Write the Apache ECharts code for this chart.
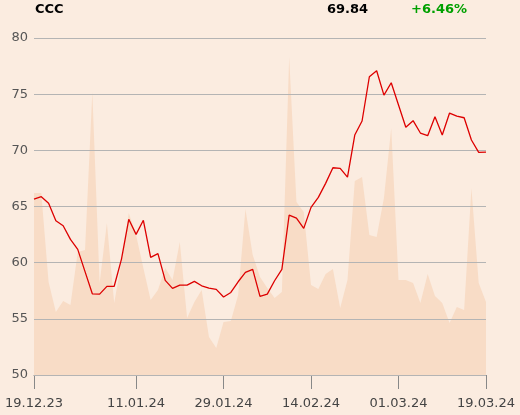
<!DOCTYPE html>
<html>
<head>
<meta charset="utf-8">
<script src="https://cdn.jsdelivr.net/npm/echarts@6/dist/echarts.min.js"></script>
<style>
html,body{margin:0;padding:0;background:#fbece0;}
#chart{width:520px;height:415px;}
</style>
</head>
<body>
<div id="chart"></div>
<script>
var dates = ['19.12.23','20.12.23','21.12.23','22.12.23','27.12.23','28.12.23','29.12.23','02.01.24','03.01.24','04.01.24','05.01.24','08.01.24','09.01.24','10.01.24','11.01.24','12.01.24','15.01.24','16.01.24','17.01.24','18.01.24','19.01.24','22.01.24','23.01.24','24.01.24','25.01.24','26.01.24','29.01.24','30.01.24','31.01.24','01.02.24','02.02.24','05.02.24','06.02.24','07.02.24','08.02.24','09.02.24','12.02.24','13.02.24','14.02.24','15.02.24','16.02.24','19.02.24','20.02.24','21.02.24','22.02.24','23.02.24','26.02.24','27.02.24','28.02.24','29.02.24','01.03.24','04.03.24','05.03.24','06.03.24','07.03.24','08.03.24','11.03.24','12.03.24','13.03.24','14.03.24','15.03.24','18.03.24','19.03.24'];
var prices = [65.66,65.87,65.28,63.73,63.29,62.07,61.18,59.2,57.23,57.2,57.89,57.9,60.32,63.86,62.52,63.77,60.47,60.8,58.42,57.71,58.0,58.0,58.33,57.94,57.74,57.62,56.94,57.35,58.3,59.13,59.4,57.0,57.2,58.39,59.4,64.24,63.97,63.05,64.92,65.81,67.06,68.45,68.4,67.62,71.36,72.61,76.55,77.09,74.92,76.02,74.03,72.05,72.64,71.54,71.3,72.99,71.36,73.32,73.05,72.9,70.92,69.82,69.84];
var volumes = [182,182,93,63,74,70,123,125,283,92,152,72,113,162,140,107,75,85,107,95,133,57,73,85,38,27,53,54,80,166,120,98,87,77,83,318,173,163,90,86,101,106,67,95,194,198,140,138,177,247,95,95,92,72,101,79,72,52,68,65,187,92,73];
var tickLabels = ['19.12.23','11.01.24','29.01.24','14.02.24','01.03.24','19.03.24'];
var yTicks = [50,55,60,65,70,75,80];
var ticker = 'CCC';
var lastPrice = '69.84';
var change = '+6.46%';

var FONT = 'DejaVu Sans';
var chart = echarts.init(document.getElementById('chart'), null, {renderer:'canvas'});
function showIdx(i){ return tickLabels.indexOf(dates[i]) >= 0; }
chart.setOption({
  backgroundColor: '#fbece0',
  animation: false,
  title: [
    {text: ticker, left: 35, top: 3, padding:0, textStyle:{fontFamily:FONT, fontSize:13, fontWeight:'bold', color:'#000'}},
    {text: lastPrice, left: 327, top: 3, padding:0, textStyle:{fontFamily:FONT, fontSize:13, fontWeight:'bold', color:'#000'}},
    {text: change, left: 411, top: 3, padding:0, textStyle:{fontFamily:FONT, fontSize:13, fontWeight:'bold', color:'#00a000'}}
  ],
  grid: {left:34, right:34, top:38, bottom:40, containLabel:false},
  xAxis: {
    type:'category', data: dates, boundaryGap:false,
    axisLine:{show:true, lineStyle:{color:'#888', width:1}},
    axisTick:{show:true, length:14, interval:function(i){return showIdx(i);}, lineStyle:{color:'#888'}},
    axisLabel:{interval:function(i){return showIdx(i);}, margin:22, fontFamily:FONT, fontSize:13, color:'#444', showMinLabel:true, showMaxLabel:true},
    splitLine:{show:false}
  },
  yAxis: [
    {type:'value', min: yTicks[0], max: yTicks[yTicks.length-1], interval:5, position:'left', z:3,
     axisLine:{show:false}, axisTick:{show:false},
     axisLabel:{margin:6, fontFamily:FONT, fontSize:13, color:'#555'},
     splitLine:{show:true, lineStyle:{color:'#b4b4b4', width:1}}},
    {type:'value', min:0, max:337, show:false, splitLine:{show:false}}
  ],
  series: [
    {type:'line', yAxisIndex:1, data: volumes, symbol:'none', z:1,
     lineStyle:{width:0, opacity:0}, areaStyle:{color:'#f8dcc6', opacity:1}},
    {type:'line', yAxisIndex:0, data: prices, symbol:'none', z:5,
     lineStyle:{color:'#dd0000', width:1.3}}
  ]
});
</script>
</body>
</html>
